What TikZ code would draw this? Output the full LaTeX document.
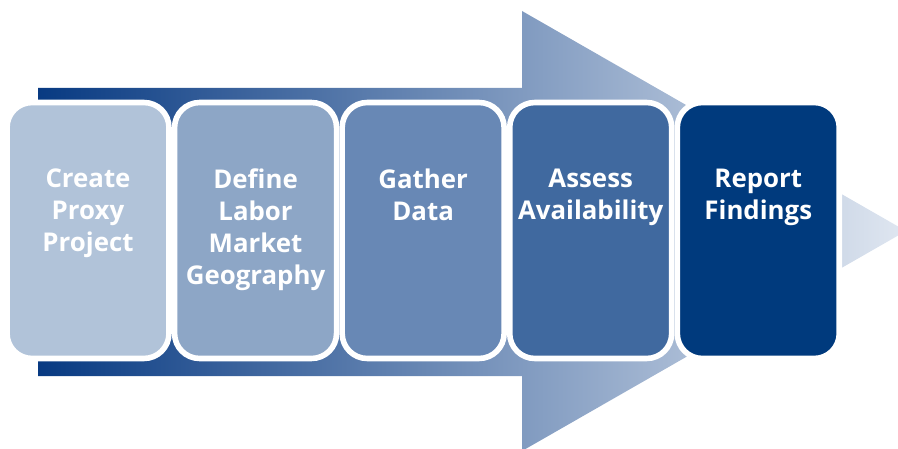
\documentclass[tikz,border=0pt]{standalone}
\usepackage{fontspec}
\setsansfont{Open Sans}
\usetikzlibrary{positioning}
\definecolor{flowdark}{HTML}{083A82}
\definecolor{flowlight}{HTML}{E0E7F1}
\definecolor{stageA}{HTML}{B1C3D9}
\definecolor{stageB}{HTML}{8DA6C6}
\definecolor{stageC}{HTML}{6888B5}
\definecolor{stageD}{HTML}{40699F}
\definecolor{stageE}{HTML}{003A7D}
\tikzset{
  stage/.style={draw=white, line width=6pt*0.53, rounded corners=0.5cm,
    minimum width=3.24cm, minimum height=5.12cm, outer sep=0pt, inner sep=0pt},
  stagetext/.style={text=white, font=\sffamily\bfseries\fontsize{14.7}{18.2}\selectfont,
    align=center, anchor=north, inner sep=0pt}
}

\begin{document}
\begin{tikzpicture}[x=0.02cm, y=-0.02cm]
  \useasboundingbox (0,0) rectangle (898,449);
  \begin{scope}
    \clip (0,0) rectangle (898,449);
    \shade[left color=flowdark, right color=flowlight]
      (38,88) -- (522,88) -- (522,11) -- (906,231) -- (522,451) -- (522,376) -- (38,376) -- cycle;
  \end{scope}
  \node[stage, fill=stageA] (proxy) at (88,230.5) {};
  \node[stage, fill=stageB, right=0.112cm of proxy] (geo) {};
  \node[stage, fill=stageC, right=0.112cm of geo] (data) {};
  \node[stage, fill=stageD, right=0.112cm of data] (assess) {};
  \node[stage, fill=stageE, right=0.112cm of assess] (report) {};
  \node[stagetext] (proxytext) at ([yshift=-1.32cm]proxy.north) {Create\\Proxy\\Project};
  \node[stagetext] (geotext) at ([yshift=-1.32cm]geo.north) {Define\\Labor\\Market\\Geography};
  \node[stagetext] (datatext) at ([yshift=-1.32cm]data.north) {Gather\\Data};
  \node[stagetext] (assesstext) at ([yshift=-1.32cm]assess.north) {Assess\\Availability};
  \node[stagetext] (reporttext) at ([yshift=-1.32cm]report.north) {Report\\Findings};
\end{tikzpicture}
\end{document}
